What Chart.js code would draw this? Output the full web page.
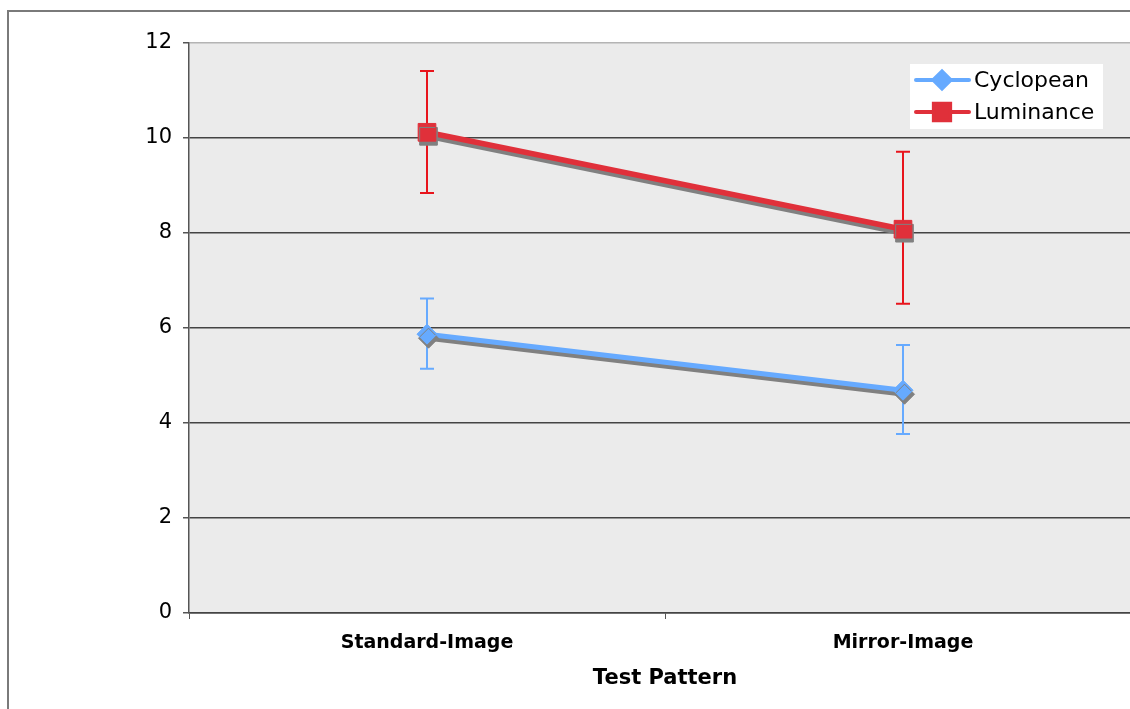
<!DOCTYPE html>
<html lang="en">
<head>
  <meta charset="UTF-8" />
  <title>Test Pattern</title>
  <style>
    html, body { margin: 0; padding: 0; background: #fff; overflow: hidden; }
    .wrap { width: 1130px; height: 709px; overflow: hidden; position: relative; }
    .wrap canvas { position: absolute; left: 0; top: 0; }
  </style>
</head>
<body>
  <div class="wrap"><canvas id="chart" width="1160" height="709"></canvas></div>

  <script src="https://cdn.jsdelivr.net/npm/chart.js"></script>
  <script>
    // Data
    const categories = ['Standard-Image', 'Mirror-Image'];
    const seriesNames = ['Cyclopean', 'Luminance'];
    const cyclopean = [5.87, 4.69];
    const cyclopeanLow = [5.14, 3.77];
    const cyclopeanHigh = [6.62, 5.64];
    const luminance = [10.12, 8.08];
    const luminanceLow = [8.84, 6.51];
    const luminanceHigh = [11.41, 9.71];
    const yTicks = [0, 2, 4, 6, 8, 10, 12];

    const FONT = "'DejaVu Sans', Verdana, sans-serif";
    const BLUE = '#66aaff';
    const RED = '#e0303a';

    const errors = [
      { low: cyclopeanLow, high: cyclopeanHigh, color: BLUE },
      { low: luminanceLow, high: luminanceHigh, color: '#e8141c' }
    ];

    const background = {
      id: 'background',
      beforeDraw(chart) {
        const { ctx, chartArea: a } = chart;
        ctx.save();
        ctx.fillStyle = '#ebebeb';
        ctx.fillRect(a.left, a.top, a.right - a.left, a.bottom - a.top);
        ctx.strokeStyle = '#7a7a7a';
        ctx.lineWidth = 2;
        ctx.strokeRect(8, 11, chart.width, chart.height);
        ctx.restore();
      }
    };

    const errorBars = {
      id: 'errorBars',
      beforeDatasetsDraw(chart) {
        const { ctx, scales: { x, y } } = chart;
        errors.forEach(e => {
          ctx.save();
          ctx.strokeStyle = e.color;
          ctx.lineWidth = 2;
          e.low.forEach((lo, i) => {
            const px = x.getPixelForValue(i);
            const top = y.getPixelForValue(e.high[i]);
            const bot = y.getPixelForValue(lo);
            ctx.beginPath();
            ctx.moveTo(px, top); ctx.lineTo(px, bot);
            ctx.moveTo(px - 7, top); ctx.lineTo(px + 7, top);
            ctx.moveTo(px - 7, bot); ctx.lineTo(px + 7, bot);
            ctx.stroke();
          });
          ctx.restore();
        });
      }
    };

    // grey drop shadow under the lines and markers
    const shadow = {
      id: 'shadow',
      beforeDatasetDraw(chart) {
        const c = chart.ctx;
        c.save();
        c.shadowColor = '#808080';
        c.shadowOffsetX = 1.5;
        c.shadowOffsetY = 4;
        c.shadowBlur = 0;
      },
      afterDatasetDraw(chart) {
        chart.ctx.restore();
      }
    };

    const boxLegend = {
      id: 'boxLegend',
      afterDraw(chart) {
        const { ctx } = chart;
        ctx.save();
        ctx.fillStyle = '#fff';
        ctx.fillRect(910, 64, 193, 65);
        chart.data.datasets.forEach((ds, i) => {
          const y = 80 + 32 * i;
          ctx.strokeStyle = ds.borderColor;
          ctx.lineWidth = 4;
          ctx.lineCap = 'round';
          ctx.beginPath();
          ctx.moveTo(916, y); ctx.lineTo(969, y);
          ctx.stroke();
          ctx.fillStyle = ds.pointBackgroundColor;
          ctx.strokeStyle = ds.pointBorderColor;
          Chart.helpers.drawPoint(ctx, {
            pointStyle: ds.pointStyle, rotation: 0,
            radius: ds.legendRadius, borderWidth: 1
          }, 942, y);
          ctx.fillStyle = '#000';
          ctx.font = '22px ' + FONT;
          ctx.textBaseline = 'middle';
          ctx.fillText(ds.label, 974, y + 1);
        });
        ctx.restore();
      }
    };

    new Chart(document.getElementById('chart').getContext('2d'), {
      type: 'line',
      data: {
        labels: categories,
        datasets: [
          {
            label: seriesNames[0],
            data: cyclopean,
            borderColor: BLUE,
            borderWidth: 5,
            pointStyle: 'rectRot',
            pointRadius: 10,
            pointHoverRadius: 10,
            legendRadius: 8.5,
            pointBackgroundColor: BLUE,
            pointBorderColor: BLUE,
            pointBorderWidth: 1,
            tension: 0
          },
          {
            label: seriesNames[1],
            data: luminance,
            borderColor: RED,
            borderWidth: 5.5,
            pointStyle: 'rect',
            pointRadius: 12.5,
            pointHoverRadius: 12.5,
            legendRadius: 11.5,
            pointBackgroundColor: RED,
            pointBorderColor: RED,
            pointBorderWidth: 1,
            tension: 0
          }
        ]
      },
      options: {
        responsive: false,
        devicePixelRatio: 1,
        animation: false,
        layout: { padding: { top: 43, right: 19, bottom: 0, left: 0 } },
        plugins: {
          legend: { display: false },
          tooltip: { enabled: false }
        },
        scales: {
          x: {
            offset: true,
            afterFit: s => { s.height = 96; },
            grid: {
              offset: true,
              drawOnChartArea: false,
              tickLength: 6,
              tickColor: '#555'
            },
            border: { color: '#444', width: 1.5 },
            ticks: {
              padding: 13,
              color: '#000',
              font: { family: FONT, size: 19, weight: 'bold' }
            },
            title: {
              display: true,
              text: 'Test Pattern',
              color: '#000',
              padding: { top: 0, bottom: 18 },
              font: { family: FONT, size: 21, weight: 'bold' }
            }
          },
          y: {
            min: 0,
            max: 12,
            afterFit: s => { s.width = 189; },
            afterBuildTicks: s => { s.ticks = yTicks.map(v => ({ value: v })); },
            grid: {
              color: c => c.tick && c.tick.value === 12 ? '#b4b4b4' : '#444',
              lineWidth: 1.5,
              tickLength: 6,
              tickColor: '#555'
            },
            border: { color: '#555', width: 1.5 },
            ticks: {
              padding: 11,
              color: '#000',
              font: { family: FONT, size: 21 }
            }
          }
        }
      },
      plugins: [background, errorBars, shadow, boxLegend]
    });
  </script>
</body>
</html>
